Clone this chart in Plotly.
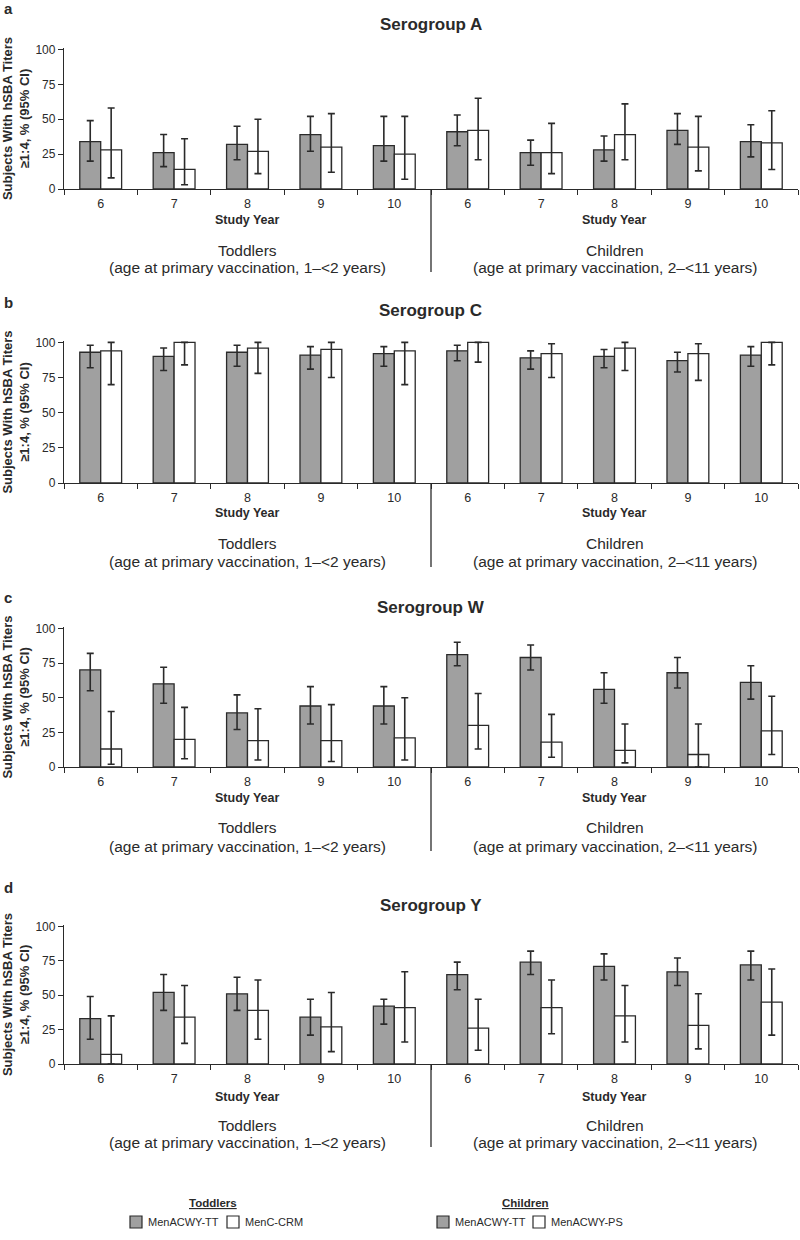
import plotly.graph_objects as go

# study years shown under each age group
years = [6, 7, 8, 9, 10]
groups = ["Toddlers", "Children"]
group_notes = ["(age at primary vaccination, 1–&lt;2 years)",
               "(age at primary vaccination, 2–&lt;11 years)"]
serogroups = ["A", "C", "W", "Y"]

# first 5 values = toddlers (years 6-10), last 5 = children (years 6-10)
# tt = MenACWY-TT, cmp = MenC-CRM (toddlers) / MenACWY-PS (children)
a_tt = [34, 26, 32, 39, 31, 41, 26, 28, 42, 34]
a_tt_lo = [20, 16, 21, 27, 20, 31, 17, 20, 32, 23]
a_tt_hi = [49, 39, 45, 52, 52, 53, 35, 38, 54, 46]
a_cmp = [28, 14, 27, 30, 25, 42, 26, 39, 30, 33]
a_cmp_lo = [8, 3, 11, 12, 7, 21, 11, 21, 13, 14]
a_cmp_hi = [58, 36, 50, 54, 52, 65, 47, 61, 52, 56]

c_tt = [93, 90, 93, 91, 92, 94, 89, 90, 87, 91]
c_tt_lo = [82, 80, 83, 81, 83, 87, 81, 82, 79, 83]
c_tt_hi = [98, 96, 98, 97, 97, 98, 94, 95, 93, 97]
c_cmp = [94, 100, 96, 95, 94, 100, 92, 96, 92, 100]
c_cmp_lo = [70, 84, 78, 75, 70, 86, 75, 80, 73, 84]
c_cmp_hi = [100, 100, 100, 100, 100, 100, 99, 100, 99, 100]

w_tt = [70, 60, 39, 44, 44, 81, 79, 56, 68, 61]
w_tt_lo = [55, 46, 27, 31, 31, 73, 70, 46, 57, 49]
w_tt_hi = [82, 72, 52, 58, 58, 90, 88, 68, 79, 73]
w_cmp = [13, 20, 19, 19, 21, 30, 18, 12, 9, 26]
w_cmp_lo = [2, 6, 5, 4, 5, 13, 7, 3, 0, 9]
w_cmp_hi = [40, 43, 42, 45, 50, 53, 38, 31, 31, 51]

y_tt = [33, 52, 51, 34, 42, 65, 74, 71, 67, 72]
y_tt_lo = [18, 39, 39, 21, 29, 54, 65, 61, 57, 61]
y_tt_hi = [49, 65, 63, 47, 47, 74, 82, 80, 77, 82]
y_cmp = [7, 34, 39, 27, 41, 26, 41, 35, 28, 45]
y_cmp_lo = [0, 15, 18, 9, 16, 10, 22, 16, 11, 21]
y_cmp_hi = [35, 57, 61, 52, 67, 47, 61, 57, 51, 69]

data = [
    (a_tt, a_tt_lo, a_tt_hi, a_cmp, a_cmp_lo, a_cmp_hi),
    (c_tt, c_tt_lo, c_tt_hi, c_cmp, c_cmp_lo, c_cmp_hi),
    (w_tt, w_tt_lo, w_tt_hi, w_cmp, w_cmp_lo, w_cmp_hi),
    (y_tt, y_tt_lo, y_tt_hi, y_cmp, y_cmp_lo, y_cmp_hi),
]
cmp_names = ["MenC-CRM", "MenACWY-PS"]

W, H = 800, 1240
FONT = "Liberation Sans, Arial, sans-serif"
INK = "#2a2a2a"
GRAY = "#a0a0a0"

# pixel layout of each panel: letter, title, axis top, axis bottom, study year, group lines, divider end
panels = [
    dict(letter=8, title=25, top=48, bottom=189, sy=220, g1=250, g2=267, div=272),
    dict(letter=302, title=310, top=341, bottom=483, sy=513, g1=543, g2=561, div=567),
    dict(letter=598, title=607, top=627, bottom=767, sy=798, g1=827, g2=846, div=851),
    dict(letter=887, title=905, top=925, bottom=1064, sy=1097, g1=1125, g2=1142, div=1147),
]
# hand-drawn legend blocks: heading centre, swatch left edges, label left edges
legend_blocks = [
    dict(head=213, boxes=[130, 227], labels=[146, 243]),
    dict(head=525, boxes=[437, 533], labels=[453, 549]),
]


def py(px):
    return 1 - px / H


xs = list(range(len(years) * 2))
fig = go.Figure()
annotations = []
shapes = []

for i, (sg, p, vals) in enumerate(zip(serogroups, panels, data)):
    tt, tt_lo, tt_hi, cmp, cmp_lo, cmp_hi = vals
    n = "" if i == 0 else str(i + 1)
    xa, ya = "x" + n, "y" + n
    for g in range(2):
        sl = slice(g * 5, g * 5 + 5)
        fig.add_bar(
            x=xs[sl], y=tt[sl], name="MenACWY-TT", showlegend=False,
            offsetgroup="tt", xaxis=xa, yaxis=ya,
            marker=dict(color=GRAY, line=dict(color=INK, width=1.3)),
            error_y=dict(type="data", array=[h - v for h, v in zip(tt_hi[sl], tt[sl])],
                         arrayminus=[v - l for v, l in zip(tt[sl], tt_lo[sl])],
                         color=INK, thickness=1.6, width=3.5),
        )
        fig.add_bar(
            x=xs[sl], y=cmp[sl], name=cmp_names[g], showlegend=False,
            offsetgroup="cmp", xaxis=xa, yaxis=ya,
            marker=dict(color="white", line=dict(color=INK, width=1.3)),
            error_y=dict(type="data", array=[h - v for h, v in zip(cmp_hi[sl], cmp[sl])],
                         arrayminus=[v - l for v, l in zip(cmp[sl], cmp_lo[sl])],
                         color=INK, thickness=1.6, width=3.5),
        )

    fig.update_layout({
        "xaxis" + n: dict(
            domain=[64 / W, 798 / W], range=[-0.5, 9.5], anchor=ya,
            tickmode="array", tickvals=xs, ticktext=[str(y) for y in years * 2],
            ticks="outside", ticklen=3, tickcolor="rgba(0,0,0,0)",
            tickfont=dict(size=12.5, color=INK),
            minor=dict(ticks="outside", tick0=-0.5, dtick=1, ticklen=5,
                       tickcolor=INK, tickwidth=1.3),
            showline=True, linecolor=INK, linewidth=1.3,
            showgrid=False, zeroline=False, automargin=False,
        ),
        "yaxis" + n: dict(
            domain=[py(p["bottom"]), py(p["top"])], range=[0, 101], anchor=xa,
            tickvals=[0, 25, 50, 75, 100], ticks="outside", ticklen=5,
            tickcolor=INK, tickwidth=1.3, tickfont=dict(size=12, color=INK),
            showline=True, linecolor=INK, linewidth=1.3,
            showgrid=False, zeroline=False, automargin=False,
            title=dict(text="<b>Subjects With hSBA Titers<br>≥1:4, % (95% CI)</b>",
                       font=dict(size=13, color=INK), standoff=3),
        ),
    })

    annotations.append(dict(text="<b>" + "abcd"[i] + "</b>", xref="paper", yref="paper",
                            x=0.003, y=py(p["letter"]), xanchor="left", yanchor="middle",
                            showarrow=False, font=dict(size=15, color=INK)))
    annotations.append(dict(text="<b>Serogroup " + sg + "</b>", xref="paper", yref="paper",
                            x=(64 + 798) / 2 / W, y=py(p["title"]), xanchor="center",
                            yanchor="middle", showarrow=False, font=dict(size=17, color=INK)))
    for g in range(2):
        cx = 2 + 5 * g
        annotations.append(dict(text="<b>Study Year</b>", xref=xa, yref="paper", x=cx,
                                y=py(p["sy"]), yanchor="middle", showarrow=False,
                                font=dict(size=12.5, color=INK)))
        annotations.append(dict(text=groups[g], xref=xa, yref="paper", x=cx,
                                y=py(p["g1"]), yanchor="middle", showarrow=False,
                                font=dict(size=15.5, color=INK)))
        annotations.append(dict(text=group_notes[g], xref=xa, yref="paper", x=cx,
                                y=py(p["g2"]), yanchor="middle", showarrow=False,
                                font=dict(size=15.5, color=INK)))
    shapes.append(dict(type="line", xref=xa, yref="paper", x0=4.5, x1=4.5,
                       y0=py(p["bottom"]), y1=py(p["div"]),
                       line=dict(color=INK, width=1.3)))

# legend: one block per age group, heading underlined
for g, blk in enumerate(legend_blocks):
    annotations.append(dict(text="<b><u>" + groups[g] + "</u></b>", xref="paper", yref="paper",
                            x=blk["head"] / W, y=py(1203), xanchor="center", yanchor="middle",
                            showarrow=False, font=dict(size=11.5, color=INK)))
    for name, fill, bx, lx in zip(["MenACWY-TT", cmp_names[g]], [GRAY, "white"],
                                  blk["boxes"], blk["labels"]):
        shapes.append(dict(type="rect", xref="paper", yref="paper",
                           x0=bx / W, x1=(bx + 12) / W, y0=py(1228), y1=py(1216),
                           fillcolor=fill, line=dict(color=INK, width=1.2)))
        annotations.append(dict(text=name, xref="paper", yref="paper", x=lx / W, y=py(1222),
                                xanchor="left", yanchor="middle", showarrow=False,
                                font=dict(size=11, color=INK)))

fig.update_layout(
    width=W, height=H, template="none",
    margin=dict(l=0, r=0, t=0, b=0),
    paper_bgcolor="white", plot_bgcolor="white",
    font=dict(family=FONT, color=INK),
    barmode="group", bargap=0.43, bargroupgap=0,
    showlegend=False,
    annotations=annotations, shapes=shapes,
)

# drop the browser's default body margin so the figure sits at the page origin
fig.write_html("out.html", config={"displayModeBar": False},
               post_script="document.body.style.margin='0px';")
